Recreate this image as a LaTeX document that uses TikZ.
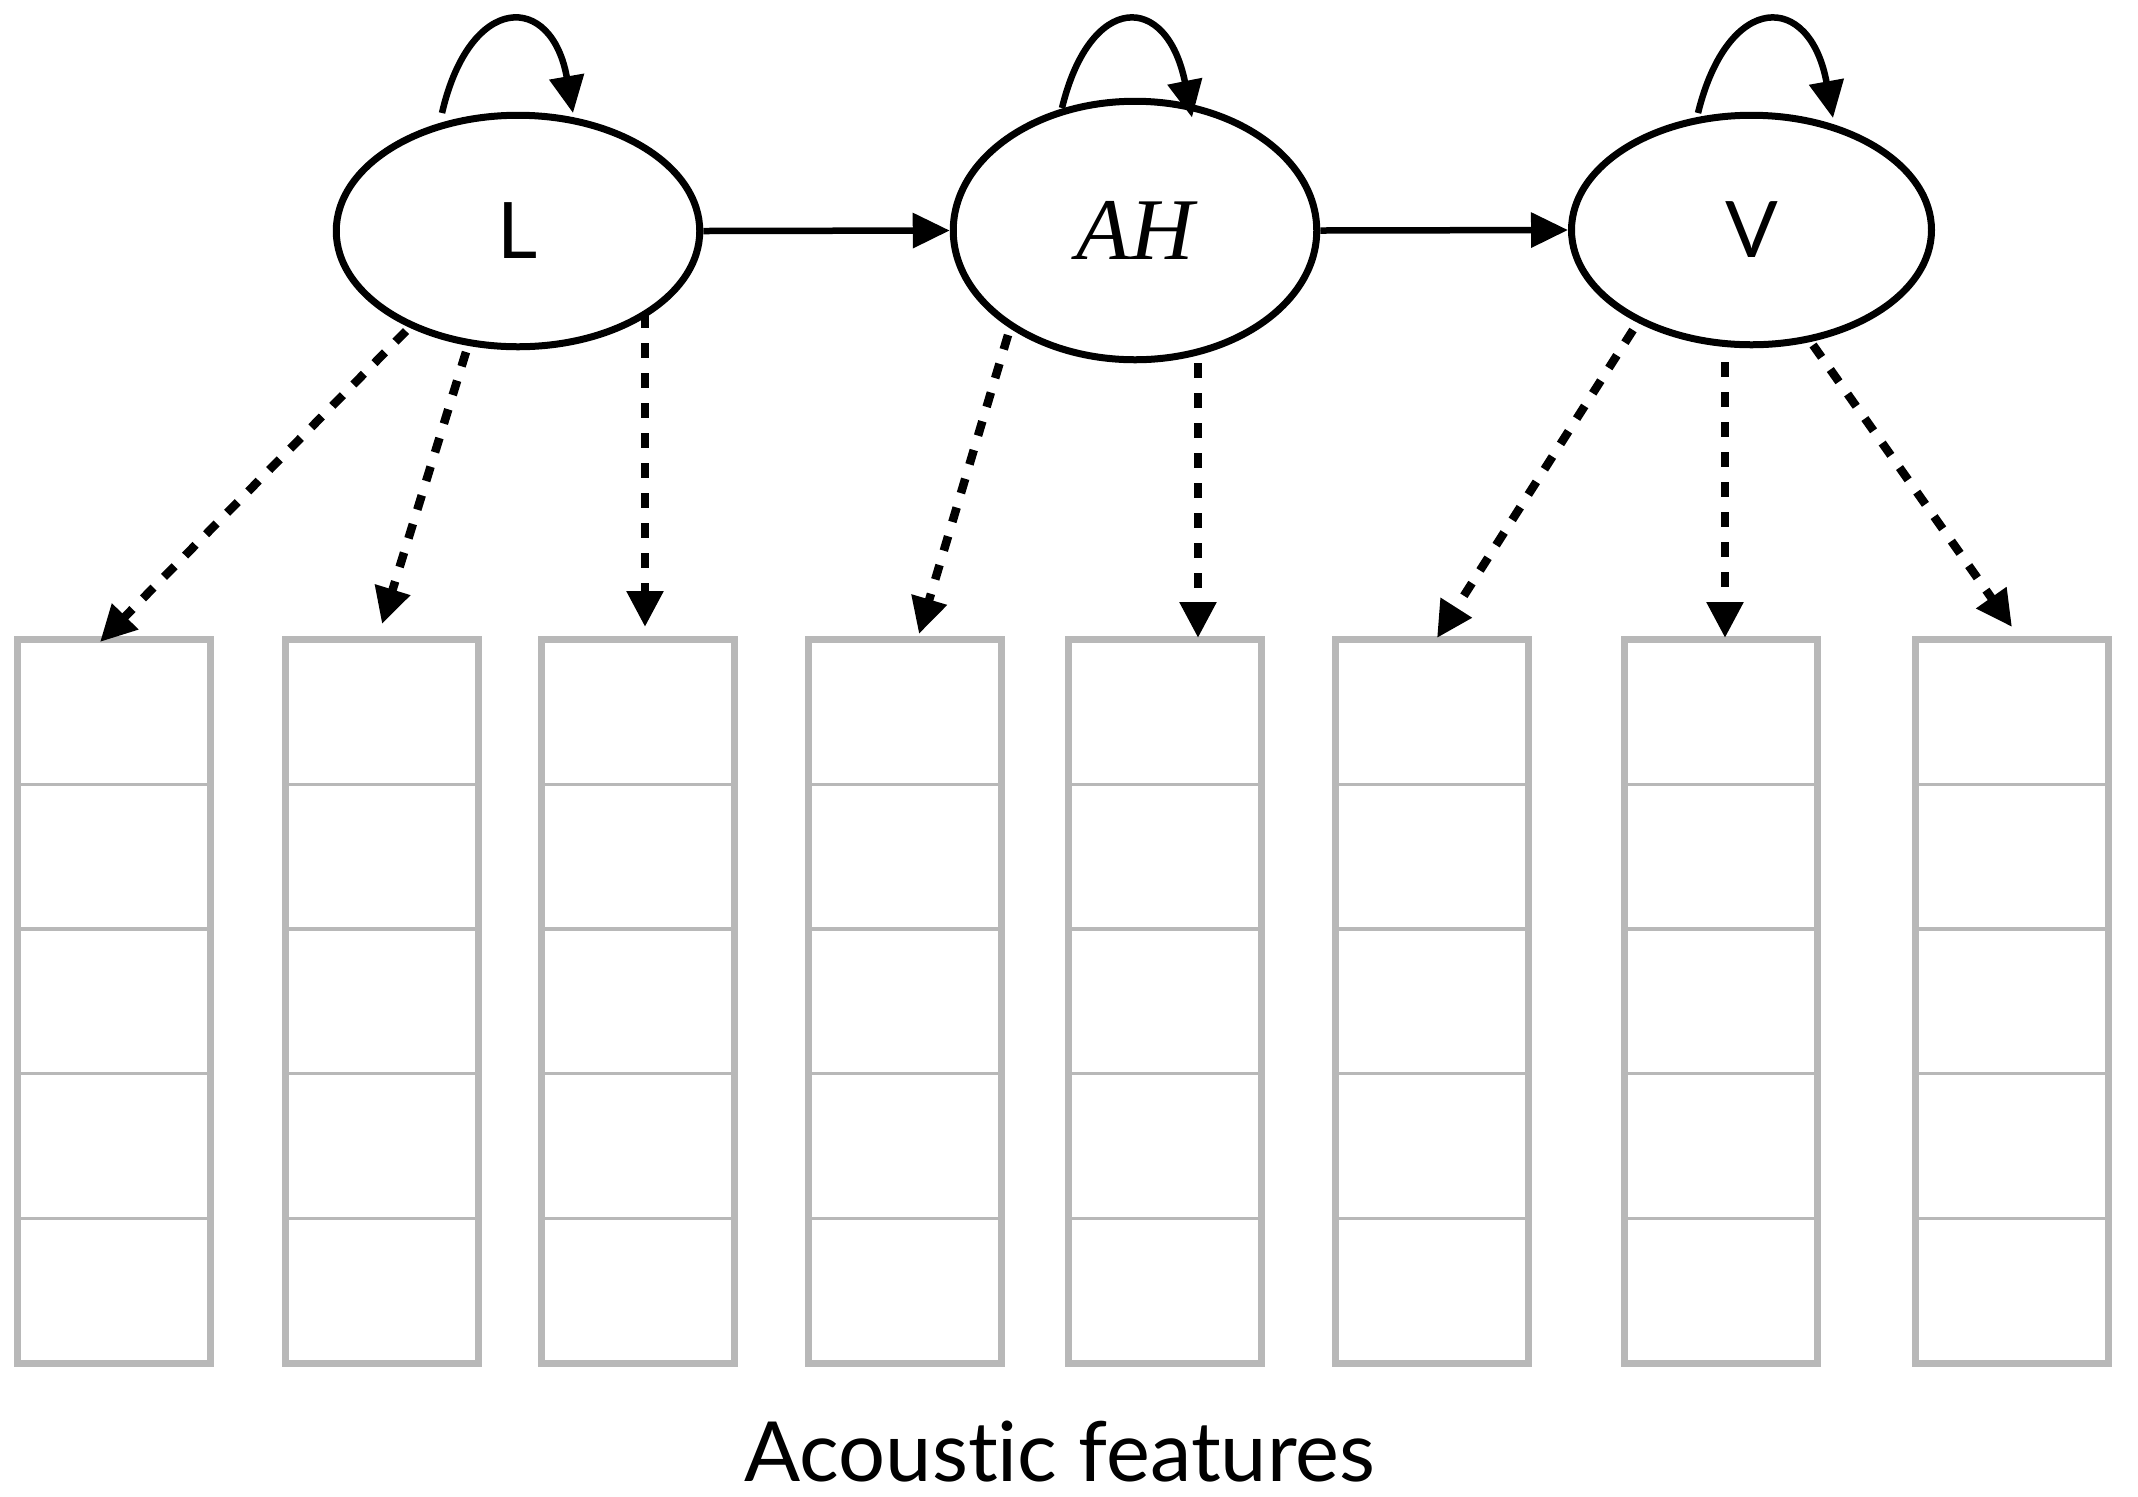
\documentclass[tikz,border=0pt]{standalone}
\usepackage{fontspec}
\setmainfont{Lato}[Ligatures={NoCommon}]
\newfontfamily\serifit{Liberation Serif}
\usetikzlibrary{shapes.geometric,arrows.meta,calc}
\definecolor{boxgray}{HTML}{B8B8B8}
\begin{document}
\begin{tikzpicture}[x=0.5pt,y=-0.5pt,
  state/.style={ellipse,draw,line width=3.5pt,inner sep=0pt,minimum width=181.75pt,font=\fontsize{39}{39}\selectfont},
  frame/.style={rectangle,draw=boxgray,line width=3.5pt,minimum width=96.5pt,minimum height=361.75pt,inner sep=0pt,outer sep=0pt},
  rowline/.style={draw=boxgray,line width=1.7pt},
  trans/.style={line width=3.25pt,-{Triangle[length=18.5pt,width=17pt]}},
  emit/.style={line width=4.25pt,dash pattern=on 7.5pt off 7.5pt,-{Triangle[length=18pt,width=17.5pt]}},
]
\useasboundingbox (0,0) rectangle (2138,1496);

% feature boxes
\foreach \i/\x in {1/114,2/382,3/637.5,4/904.7,5/1164.5,6/1432,7/1720.6,8/2012} {
  \node[frame] (b\i) at (\x,1001.25) {};
  \foreach \k in {1,2,3,4}
    \draw[rowline] ($(b\i.north west)!\k/5!(b\i.south west)$) -- ($(b\i.north east)!\k/5!(b\i.south east)$);
}

% states
\node[state,minimum height=115.75pt] (L) at (518,231) {L};
\node[state,minimum height=129.25pt,font=\serifit\itshape\fontsize{44}{44}\selectfont] (AH) at (1135,230.5) {AH};
\node[state,minimum width=180pt,minimum height=114.75pt] (V) at (1751.5,230) {V};

% transitions
\draw[trans] (L.east) -- (AH.west);
\draw[trans] (AH.east) -- (V.west);

% self loops
\draw[trans] ($(L)+(-76,-118)$) .. controls +(28,-121) and +(-21,-121) .. ($(L)+(55,-118)$);
\draw[trans] ($(AH)+(-73,-122.5)$) .. controls +(28,-116) and +(-25,-126) .. ($(AH)+(57,-113)$);
\draw[trans] ($(V)+(-53.5,-117)$) .. controls +(30,-122) and +(-23,-127) .. ($(V)+(81.5,-112)$);

% emissions
\draw[emit] ($(L)+(-112,100)$) -- ($(b1.north)+(-14,2.5)$);
\draw[emit] ($(L)+(-52,121)$) -- ($(b2.north)+(0,-15.5)$);
\draw[emit] ($(L)+(127,82)$) -- ($(b3.north)+(7.5,-12.5)$);
\draw[emit] ($(AH)+(-127,104.5)$) -- ($(b4.north)+(14.3,-5.5)$);
\draw[emit] ($(AH)+(63,132.5)$) -- ($(b5.north)+(33.5,-1.5)$);
\draw[emit] ($(V)+(-118.5,100)$) -- ($(b6.north)+(5,-1.5)$);
\draw[emit] ($(V)+(-26.5,132)$) -- ($(b7.north)+(4.4,-1.5)$);
\draw[emit] ($(V)+(61.5,115)$) -- ($(b8.north)+(0,-12.5)$);

% caption
\node[font=\fontsize{41.5}{41.5}\selectfont,anchor=base,inner sep=0pt] (cap) at (1060,1481) {Acoustic features};
\end{tikzpicture}
\end{document}
